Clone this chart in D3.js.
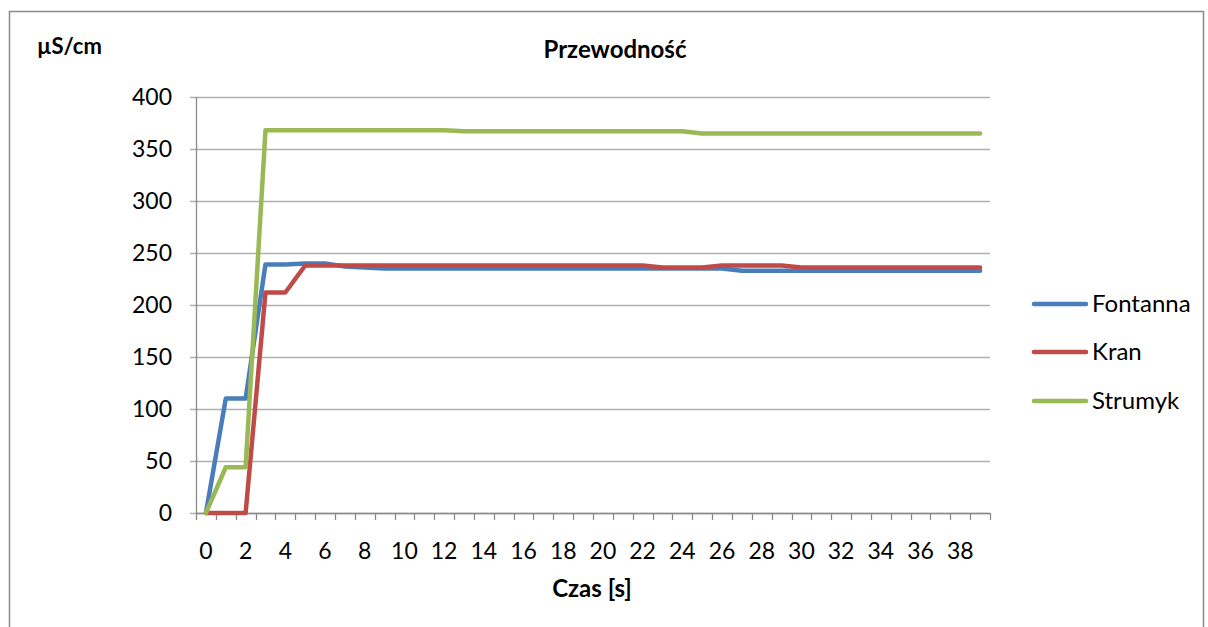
<!DOCTYPE html>
<html><head><meta charset="utf-8">
<script src="https://cdn.jsdelivr.net/npm/d3@7"></script>
<style>
html,body{margin:0;padding:0;background:#fff;}
svg text{font-family:Lato,"Open Sans",sans-serif;fill:#000;}
</style></head>
<body><svg id="c" width="1208" height="627"></svg>
<script>
const categories = d3.range(0, 40);
const tickLabels = d3.range(0, 40, 2);
const yTicks = [0, 50, 100, 150, 200, 250, 300, 350, 400];
const seriesNames = ["Fontanna", "Kran", "Strumyk"];
const colors = ["#4a7ebb", "#be4b48", "#98b954"];
const fontanna = [0,110,110,239,239,240,240,237,236,235,235,235,235,235,235,235,235,235,235,235,235,235,235,235,235,235,235,233,233,233,233,233,233,233,233,233,233,233,233,233];
const kran = [0,0,0,212,212,238,238,238,238,238,238,238,238,238,238,238,238,238,238,238,238,238,238,236,236,236,238,238,238,238,236,236,236,236,236,236,236,236,236,236];
const strumyk = [0,44,44,368,368,368,368,368,368,368,368,368,368,367,367,367,367,367,367,367,367,367,367,367,367,365,365,365,365,365,365,365,365,365,365,365,365,365,365,365];
const series = [fontanna, kran, strumyk];

const svg = d3.select("#c");
// outer border
svg.append("rect").attr("x",9.5).attr("y",11.5).attr("width",1194).attr("height",630)
  .attr("fill","none").attr("stroke","#8a8a8a").attr("stroke-width",1.5);

const L = 196, R = 990, T = 97, B = 513;
const x = d3.scaleBand().domain(categories).range([L, R]);
const y = d3.scaleLinear().domain([0, 400]).range([B, T]);
const cx = d => x(d) + x.bandwidth()/2;

// gridlines
svg.append("g").selectAll("line").data(yTicks).join("line")
  .attr("x1", L - 6).attr("x2", R).attr("y1", d => Math.round(y(d))+0.5).attr("y2", d => Math.round(y(d))+0.5)
  .attr("stroke", "#b0b0b0").attr("stroke-width", 1.3);

// y axis line
svg.append("line").attr("x1",L+0.5).attr("x2",L+0.5).attr("y1",T).attr("y2",B)
  .attr("stroke","#8a8a8a").attr("stroke-width",1.3);
// x axis line
svg.append("line").attr("x1",L).attr("x2",R).attr("y1",B+0.5).attr("y2",B+0.5)
  .attr("stroke","#8a8a8a").attr("stroke-width",1.3);
// x ticks at boundaries
const bounds = categories.map(c => x(c)).concat([R]);
svg.append("g").selectAll("line").data(bounds).join("line")
  .attr("x1", d => Math.round(d)+0.5).attr("x2", d => Math.round(d)+0.5)
  .attr("y1", B).attr("y2", B + 7).attr("stroke","#8a8a8a").attr("stroke-width",1.3);

// y labels
svg.append("g").selectAll("text").data(yTicks).join("text")
  .attr("x", 172).attr("y", d => y(d)).attr("dy","0.35em").attr("text-anchor","end")
  .style("font-size","23px").text(d => d);
// x labels
svg.append("g").selectAll("text").data(tickLabels).join("text")
  .attr("x", d => cx(d)).attr("y", 551).attr("dy","0.35em").attr("text-anchor","middle")
  .style("font-size","23px").text(d => d);

// lines
const line = d3.line().x((d,i) => cx(categories[i])).y(d => y(d));
series.forEach((s, i) => {
  svg.append("path").datum(s).attr("d", line).attr("fill","none")
    .attr("stroke", colors[i]).attr("stroke-width", 4.5).attr("stroke-linejoin","round").attr("stroke-linecap","round");
});

// titles
svg.append("text").attr("x", 615).attr("y", 50).attr("dy","0.35em").attr("text-anchor","middle")
  .style("font-size","24px").style("font-weight","bold").text("Przewodność");
svg.append("text").attr("x", 37).attr("y", 46).attr("dy","0.35em")
  .style("font-size","22px").style("font-weight","bold").text("µS/cm");
svg.append("text").attr("x", 592).attr("y", 589).attr("dy","0.35em").attr("text-anchor","middle")
  .style("font-size","24px").style("font-weight","bold").text("Czas [s]");

// legend
const ly = [304, 352, 401];
seriesNames.forEach((n, i) => {
  svg.append("line").attr("x1",1034).attr("x2",1086).attr("y1",ly[i]).attr("y2",ly[i])
    .attr("stroke",colors[i]).attr("stroke-width",4.5).attr("stroke-linecap","round");
  svg.append("text").attr("x",1092).attr("y",ly[i]).attr("dy","0.35em")
    .style("font-size","24px").text(n);
});
</script></body></html>
